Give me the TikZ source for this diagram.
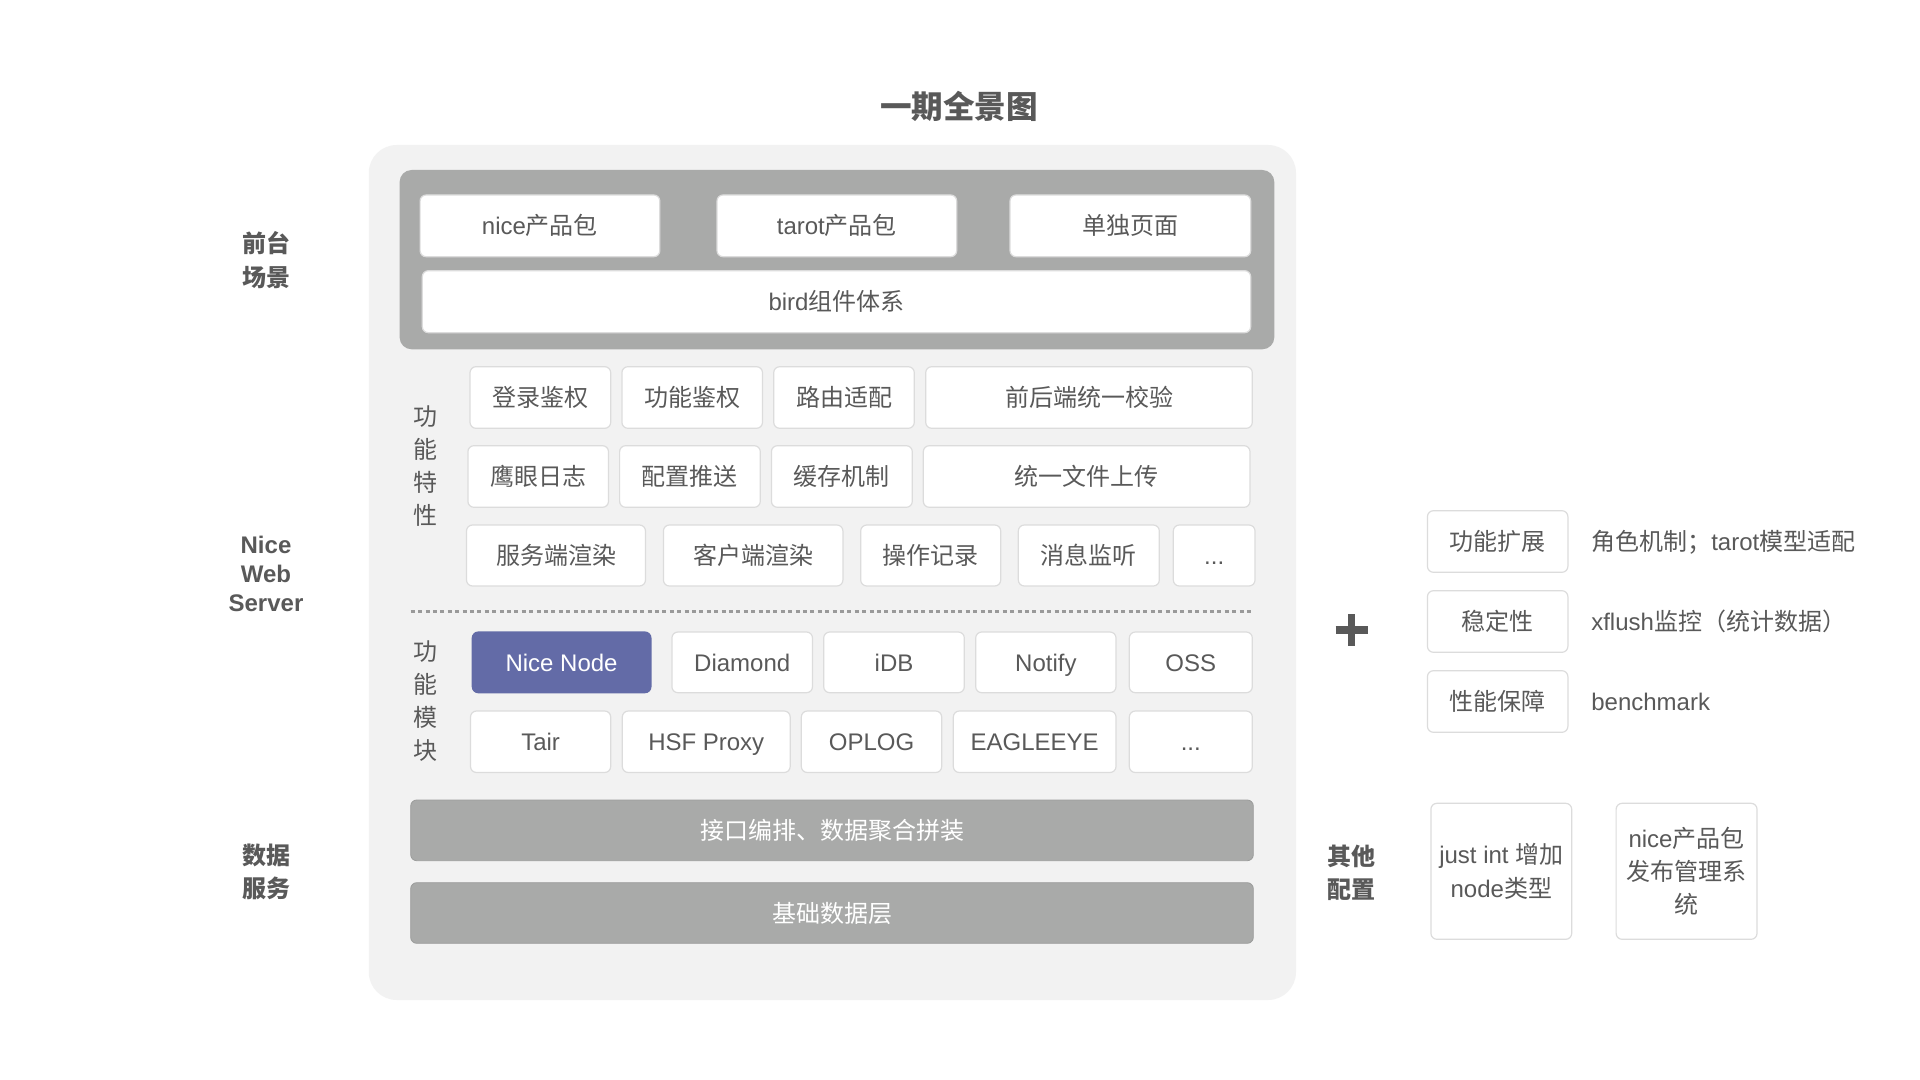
\documentclass[tikz,border=0pt]{standalone}
\usepackage{fontspec}
\setmainfont{Liberation Sans}
\newfontfamily\cjk{Noto Sans CJK SC}
\definecolor{outerbg}{HTML}{F2F2F2}
\definecolor{darkbg}{HTML}{A9AAA9}
\definecolor{txt}{HTML}{595959}
\definecolor{bord}{HTML}{DCDCDC}
\definecolor{nicenode}{HTML}{636BA7}
\definecolor{dotc}{HTML}{9A9A9A}
\newcommand\boxat[7]{\node[#6, minimum width={(#4-#2)*0.5pt}, minimum height={(#5-#3)*0.5pt}] (#1) at ({(#2+#4)/2},{(#3+#5)/2}) {#7};}
\tikzset{
  wbox/.style={draw=bord, line width=0.6pt, fill=white, rounded corners=3pt, text=txt, inner sep=0pt, outer sep=0pt,
    font=\fontsize{12}{14}\selectfont, text height=9pt, text depth=0pt},
  wboxm/.style={draw=bord, line width=0.6pt, fill=white, rounded corners=3pt, text=txt, inner sep=0pt, outer sep=0pt,
    align=center},
  pbox/.style={wbox, fill=nicenode, draw=nicenode, text=white},
  gbar/.style={wbox, fill=darkbg, draw=darkbg!92!black, line width=0.4pt, text=white},
  lbl/.style={text=txt, align=center, inner sep=0pt, font=\cjk\bfseries\fontsize{12}{16.7}\selectfont},
  lbll/.style={text=txt, align=center, inner sep=0pt, font=\bfseries\fontsize{12}{14.5}\selectfont},
  vlbl/.style={text=txt, align=center, inner sep=0pt, font=\cjk\fontsize{12}{16.5}\selectfont},
  rtxt/.style={text=txt, anchor=west, inner sep=0pt, font=\fontsize{12}{14}\selectfont, text height=9pt, text depth=0pt},
}
\begin{document}
\begin{tikzpicture}[x=0.5pt,y=-0.5pt]
\useasboundingbox (0,0) rectangle (1920,1080);
\fill[white] (0,0) rectangle (1920,1080);

\node[text=txt, inner sep=0pt, font=\cjk\bfseries\fontsize{15.8}{19}\selectfont] (title) at (959,106.7) {一期全景图};

% containers
\boxat{outer}{368.75}{145}{1296}{1000}{fill=outerbg, rounded corners=14pt, inner sep=0pt}{}
\boxat{front}{399.6}{170}{1274.3}{349.3}{fill=darkbg, rounded corners=6pt, inner sep=0pt}{}

% front-end scenes
\boxat{nicepkg}{420.1}{195}{659.8}{256.7}{wbox}{nice{\cjk 产品包}}
\boxat{tarotpkg}{717}{195}{956.7}{256.7}{wbox}{tarot{\cjk 产品包}}
\boxat{page}{1010}{195}{1250.7}{256.7}{wbox}{\cjk 单独页面}
\boxat{bird}{422.3}{270.7}{1250.7}{332.7}{wbox}{bird{\cjk 组件体系}}

% features
\boxat{login}{470}{366.7}{610.7}{428.3}{wbox}{\cjk 登录鉴权}
\boxat{funcauth}{621.9}{366.7}{762.5}{428.3}{wbox}{\cjk 功能鉴权}
\boxat{route}{773.7}{366.7}{914.3}{428.3}{wbox}{\cjk 路由适配}
\boxat{verify}{925.7}{366.7}{1252.3}{428.3}{wbox}{\cjk 前后端统一校验}

\boxat{eaglelog}{467.9}{445.7}{608.5}{507.3}{wbox}{\cjk 鹰眼日志}
\boxat{push}{619.6}{445.7}{760.3}{507.3}{wbox}{\cjk 配置推送}
\boxat{cache}{771.4}{445.7}{912.3}{507.3}{wbox}{\cjk 缓存机制}
\boxat{upload}{923.3}{445.7}{1250}{507.3}{wbox}{\cjk 统一文件上传}

\boxat{ssr}{466.5}{525}{645.5}{586}{wbox}{\cjk 服务端渲染}
\boxat{csr}{663.4}{525}{842.9}{586}{wbox}{\cjk 客户端渲染}
\boxat{oprec}{860.7}{525}{1000.7}{586}{wbox}{\cjk 操作记录}
\boxat{msg}{1018.3}{525}{1159.3}{586}{wbox}{\cjk 消息监听}
\boxat{moreA}{1173.3}{525}{1255}{586}{wbox}{...}

\node[vlbl] (feat) at (425.4,466.5) {功\\能\\特\\性};

% dotted separator
\coordinate (dotL) at (410.7,611.5);
\coordinate (dotR) at (1253.3,611.5);
\draw[dotc, line width=1.6pt, dash pattern=on 2pt off 1.7pt] (dotL) -- (dotR);

% modules
\boxat{nicenode}{472.3}{632}{650.9}{692.7}{pbox}{Nice Node}
\boxat{diamond}{671.9}{632}{812.5}{692.7}{wbox}{Diamond}
\boxat{idb}{823.7}{632}{964.3}{692.7}{wbox}{iDB}
\boxat{notify}{975.7}{632}{1116}{692.7}{wbox}{Notify}
\boxat{oss}{1129.3}{632}{1252.3}{692.7}{wbox}{OSS}

\boxat{tair}{470.5}{711}{610.7}{772.5}{wbox}{Tair}
\boxat{hsf}{622.3}{711}{790.2}{772.5}{wbox}{HSF Proxy}
\boxat{oplog}{801.3}{711}{941.7}{772.5}{wbox}{OPLOG}
\boxat{eagleeye}{953.3}{711}{1116}{772.5}{wbox}{EAGLEEYE}
\boxat{moreB}{1129.3}{711}{1252.3}{772.5}{wbox}{...}

\node[vlbl] (mods) at (425.4,700.9) {功\\能\\模\\块};

% data bars
\boxat{api}{410.7}{800}{1253.3}{860.7}{gbar}{\cjk 接口编排、数据聚合拼装}
\boxat{base}{410.7}{882.7}{1253.3}{943.3}{gbar}{\cjk 基础数据层}

% left labels
\node[lbl] (fe) at (266,260) {前台\\场景};
\node[lbll] (nws) at (266,574) {Nice\\Web\\Server};
\node[lbl] (ds) at (266,871.7) {数据\\服务};

% plus sign
\coordinate (plusL) at (1335.7,630);
\coordinate (plusR) at (1367.7,630);
\coordinate (plusT) at (1351.7,614);
\coordinate (plusB) at (1351.7,646);
\draw[txt, line width=3.6pt] (plusL) -- (plusR) (plusT) -- (plusB);

% right side
\boxat{ext}{1427.4}{510.7}{1567.9}{572.3}{wbox}{\cjk 功能扩展}
\boxat{stab}{1427.4}{590.7}{1567.9}{652.3}{wbox}{\cjk 稳定性}
\boxat{perf}{1427.4}{670.7}{1567.9}{732.3}{wbox}{\cjk 性能保障}
\node[rtxt] (extt) at (1590.9,541.5) {{\cjk 角色机制；}tarot{\cjk 模型适配}};
\node[rtxt] (stabt) at (1590.9,621.5) {xflush{\cjk 监控（统计数据）}};
\node[rtxt] (perft) at (1590.9,701.5) {benchmark};

\node[lbl] (other) at (1351.7,873) {其他\\配置};
\boxat{justint}{1430.9}{803.3}{1571.7}{939.3}{wboxm, font=\fontsize{12}{17}\selectfont}{just int {\cjk 增加}\\node{\cjk 类型}}
\boxat{release}{1616.1}{803.3}{1757}{939.3}{wboxm, font=\fontsize{12}{16.3}\selectfont}{nice{\cjk 产品包}\\{\cjk 发布管理系}\\{\cjk 统}}
\end{tikzpicture}
\end{document}
